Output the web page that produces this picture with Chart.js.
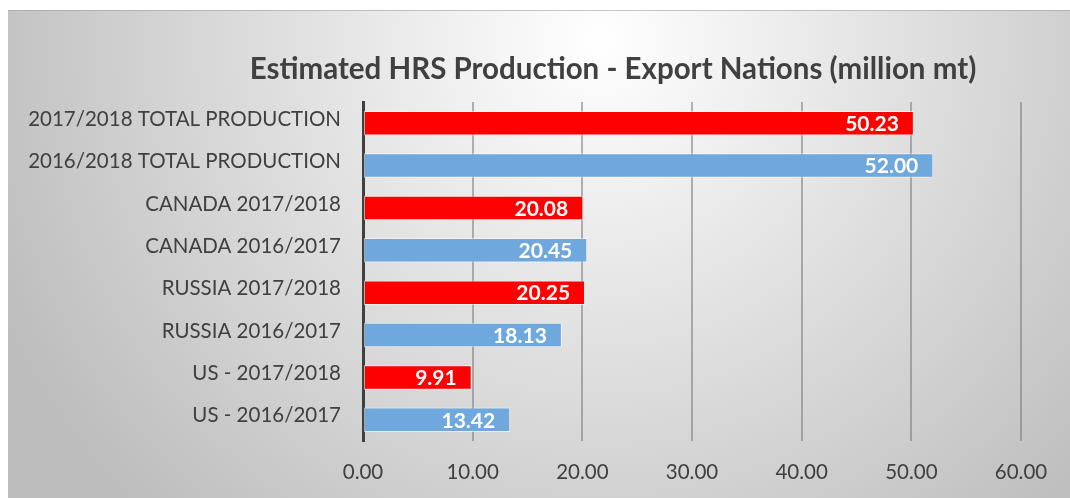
<!DOCTYPE html>
<html>
<head>
<meta charset="utf-8">
<style>
  html, body { margin: 0; padding: 0; background: #ffffff; }
  #wrap { width: 1070px; height: 498px; }
</style>
<script src="https://cdn.jsdelivr.net/npm/chart.js@4"></script>
</head>
<body>
<div id="wrap"><canvas id="hrsChart" width="1070" height="498"></canvas></div>
<script>
Chart.defaults.font.family = 'Lato, "Open Sans", sans-serif';
Chart.defaults.color = '#404040';

var chartTitle = 'Estimated HRS Production - Export Nations (million mt)';
var categories = [
  '2017/2018 TOTAL PRODUCTION',
  '2016/2018 TOTAL PRODUCTION',
  'CANADA 2017/2018',
  'CANADA 2016/2017',
  'RUSSIA 2017/2018',
  'RUSSIA 2016/2017',
  'US - 2017/2018',
  'US - 2016/2017'
];
var production = [50.23, 52.00, 20.08, 20.45, 20.25, 18.13, 9.91, 13.42];
var barColors = ['#ff0000', '#6fa8dc', '#ff0000', '#6fa8dc', '#ff0000', '#6fa8dc', '#ff0000', '#6fa8dc'];
var xTicks = [0, 10, 20, 30, 40, 50, 60];

// grey panel behind the chart + the title
var panelBg = {
  id: 'panelBg',
  beforeDraw: function (chart) {
    var c = chart.ctx;
    c.save();
    c.fillStyle = '#ffffff';
    c.fillRect(0, 0, chart.width, chart.height);
    var g = c.createRadialGradient(600, 40, 0, 600, 40, 660);
    g.addColorStop(0, '#ffffff');
    g.addColorStop(1, '#bdbdbd');
    c.fillStyle = g;
    c.fillRect(8, 10, chart.width - 8, chart.height - 10);
    c.fillStyle = 'rgba(150,150,150,0.5)';
    c.fillRect(8, 10, chart.width - 8, 1);
    c.restore();
  },
  afterDraw: function (chart) {
    var c = chart.ctx;
    c.save();
    c.font = 'bold 29.5px Lato, "Open Sans", sans-serif';
    c.fillStyle = '#404040';
    c.textAlign = 'center';
    c.textBaseline = 'middle';
    c.fillText(chartTitle, 613, 69);
    c.restore();
  }
};

// white value labels inside the bar ends
var barValues = {
  id: 'barValues',
  afterDatasetsDraw: function (chart) {
    var c = chart.ctx;
    var meta = chart.getDatasetMeta(0);
    c.save();
    c.font = 'bold 21px Lato, "Open Sans", sans-serif';
    c.fillStyle = '#ffffff';
    c.textAlign = 'right';
    c.textBaseline = 'middle';
    meta.data.forEach(function (bar, i) {
      c.fillText(production[i].toFixed(2), bar.x - 15, bar.y + 1);
    });
    c.restore();
  }
};

new Chart(document.getElementById('hrsChart'), {
  type: 'bar',
  data: {
    labels: categories,
    datasets: [{
      data: production,
      backgroundColor: barColors,
      borderColor: 'rgba(255,255,255,0.55)',
      borderWidth: 1,
      borderSkipped: false,
      barPercentage: 0.58,
      categoryPercentage: 1
    }]
  },
  options: {
    indexAxis: 'y',
    responsive: false,
    animation: false,
    layout: { padding: { left: 8, right: 49, top: 102, bottom: 7 } },
    plugins: {
      legend: { display: false },
      title: { display: false },
      tooltip: { enabled: false }
    },
    scales: {
      x: {
        min: 0,
        max: 60,
        afterBuildTicks: function (s) {
          s.ticks = xTicks.map(function (v) { return { value: v }; });
        },
        afterFit: function (s) { s.height = 50; },
        border: { display: false },
        grid: {
          drawTicks: false,
          color: function (ctx) { return ctx.index === 0 ? 'rgba(0,0,0,0)' : 'rgba(120,120,120,0.55)'; },
          lineWidth: 2
        },
        ticks: {
          padding: 19,
          color: '#404040',
          font: { size: 20.5 },
          callback: function (v) { return Number(v).toFixed(2); }
        }
      },
      y: {
        afterFit: function (s) { s.width = 355; },
        border: { display: true, color: '#404040', width: 3 },
        grid: { display: false },
        ticks: {
          padding: 14,
          labelOffset: -4,
          color: '#404040',
          font: { size: 20.5 }
        }
      }
    }
  },
  plugins: [panelBg, barValues]
});
</script>
</body>
</html>
